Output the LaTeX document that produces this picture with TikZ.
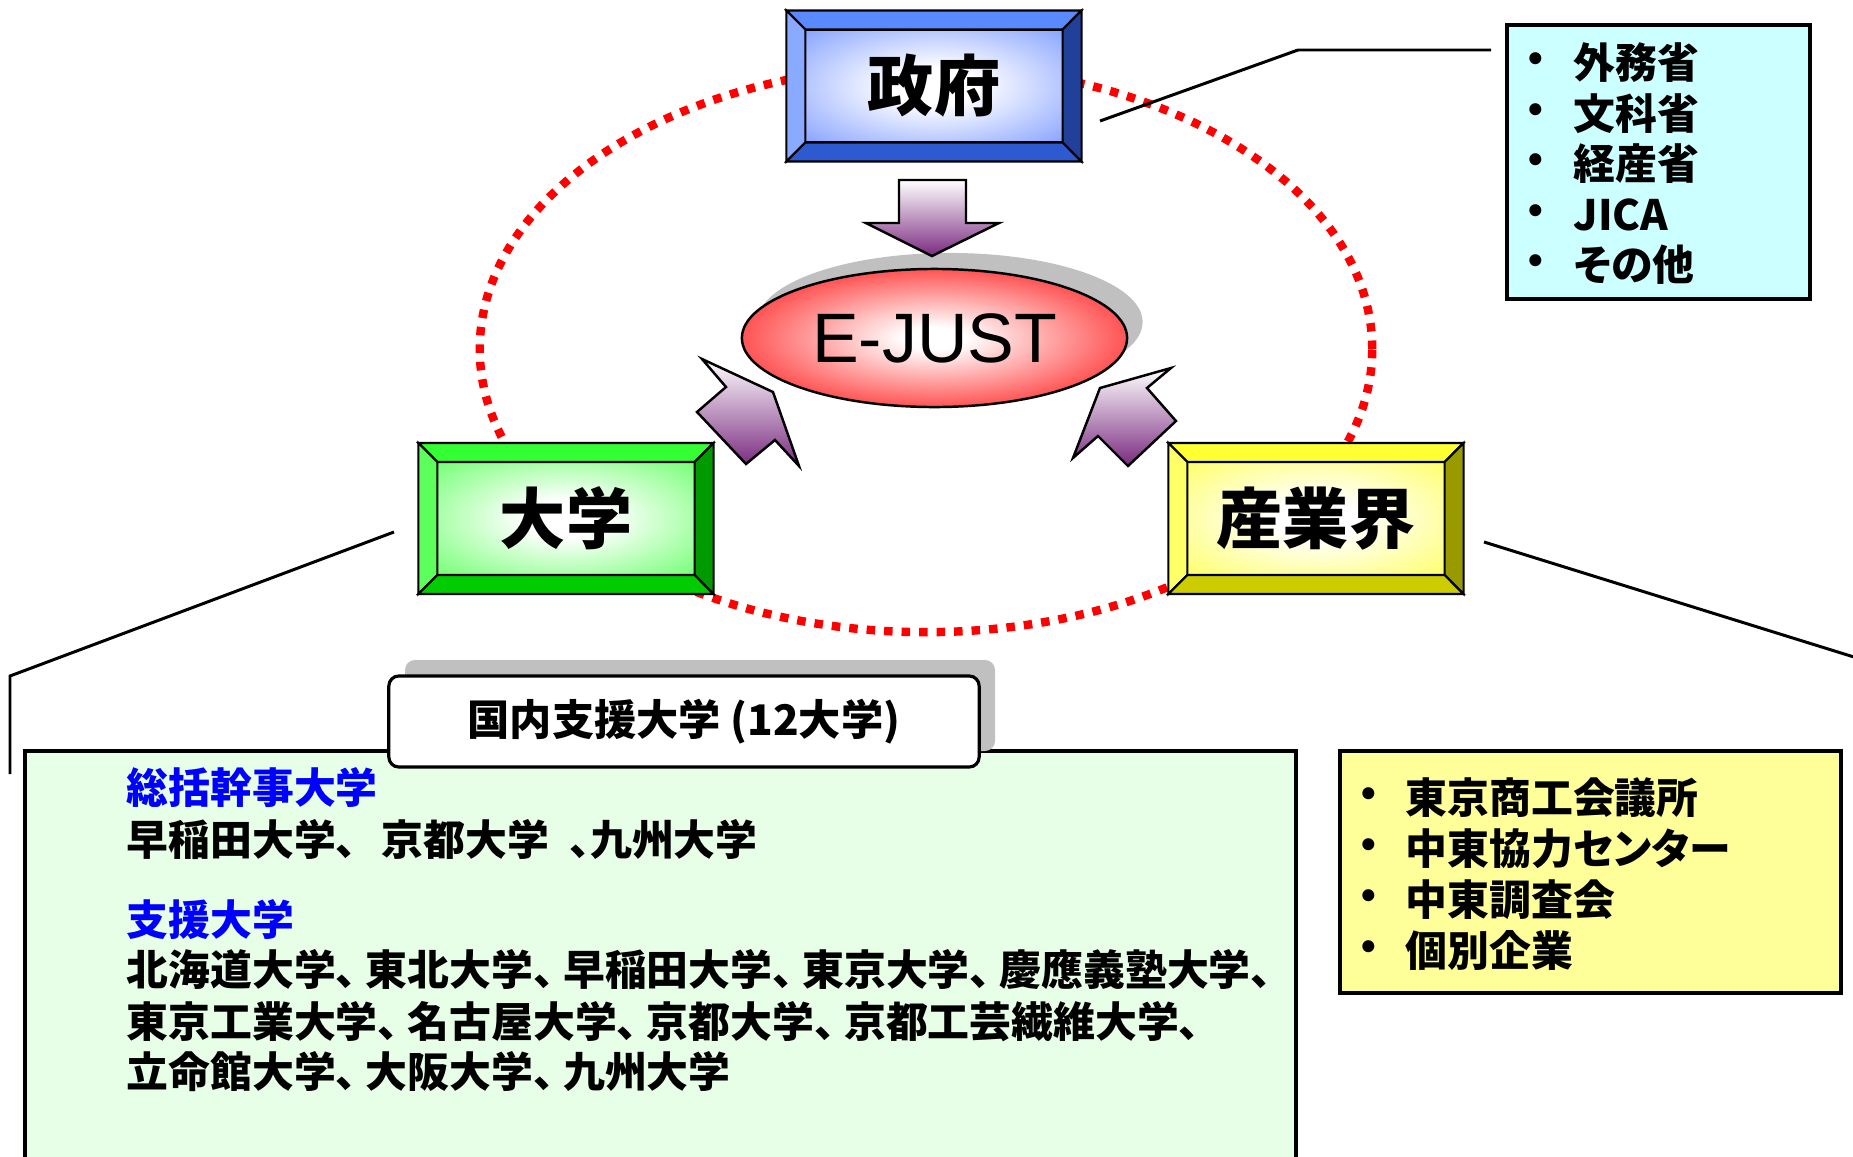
\documentclass[tikz,border=0pt]{standalone}
\usepackage{fontspec}
\setmainfont{Liberation Sans}
\newfontfamily\jp{Noto Sans CJK JP}[RawFeature=+palt]
\usetikzlibrary{shapes.geometric}

\definecolor{govtop}{HTML}{5A8AFF}
\definecolor{govleft}{HTML}{8AAAFF}
\definecolor{govright}{HTML}{21409A}
\definecolor{govbot}{HTML}{2D5AD0}
\definecolor{govface}{HTML}{5A80FF}
\definecolor{unitop}{HTML}{33FF33}
\definecolor{unileft}{HTML}{5CFF5C}
\definecolor{uniright}{HTML}{009900}
\definecolor{unibot}{HTML}{00CC00}
\definecolor{uniface}{HTML}{40FF40}
\definecolor{indtop}{HTML}{FFFF33}
\definecolor{indleft}{HTML}{FFFF66}
\definecolor{indright}{HTML}{999900}
\definecolor{indbot}{HTML}{CCCC00}
\definecolor{indface}{HTML}{FFFF33}
\definecolor{arrpurple}{HTML}{7A2A80}
\definecolor{shadowgray}{HTML}{C0C0C0}
\definecolor{govlist}{HTML}{CCFFFF}
\definecolor{unilist}{HTML}{E6FFE6}
\definecolor{indlist}{HTML}{FFFF99}
\definecolor{hotred}{HTML}{FF1A1A}
\colorlet{facecol}{white}

\pgfdeclareradialshading[facecol]{facefade}{\pgfpoint{0bp}{0bp}}{color(0bp)=(white); color(8bp)=(white); color(46bp)=(facecol); color(60bp)=(facecol)}
\pgfdeclareradialshading[facecol]{hotfade}{\pgfpoint{0bp}{0bp}}{color(0bp)=(white); color(4bp)=(white); color(32bp)=(facecol); color(60bp)=(facecol)}

\tikzset{
 bevface/.style={rectangle, draw, line width=.6pt, minimum width=2.57cm, minimum height=1.13cm, inner sep=0pt, outer sep=0pt, shade, shading=facefade, font=\jp\bfseries\fontsize{18.8}{20}\selectfont},
 bevedge/.style={draw, line width=.6pt},
 blockarrow/.style={draw, line width=.7pt, line join=miter, top color=white, bottom color=arrpurple},
 listbox/.style={draw, line width=.9pt},
 callout/.style={line width=.85pt},
 item/.style={anchor=west, inner sep=0pt, font=\jp\bfseries\fontsize{11.9}{14}\selectfont},
 dot/.style={inner sep=0pt, font=\bfseries\fontsize{11.9}{14}\selectfont},
}

% name, centre, top, left, right, bottom, face, text
\newcommand{\bevelbox}[8]{%
 \colorlet{facecol}{#7}%
 \node[bevface] (#1) at (#2) {#8};
 \filldraw[bevedge, fill=#3] (#1.north west) -- ++(-19,-19) -- ++(295,0) -- (#1.north east) -- cycle;
 \filldraw[bevedge, fill=#4] (#1.north west) -- ++(-19,-19) -- ++(0,151) -- (#1.south west) -- cycle;
 \filldraw[bevedge, fill=#5] (#1.north east) -- ++(19,-19) -- ++(0,151) -- (#1.south east) -- cycle;
 \filldraw[bevedge, fill=#6] (#1.south west) -- ++(-19,19) -- ++(295,0) -- (#1.south east) -- cycle;
}
\newcommand{\ten}{、\hspace{.09cm}}

\begin{document}
\begin{tikzpicture}[x=0.01cm, y=-0.01cm]
 \useasboundingbox (0,0) rectangle (1853,1157);

 % ring
 \draw[red, line width=2.4pt, dash pattern=on .085cm off .09cm] (926,349) ellipse (4.46cm and 2.83cm);

 % centre
 \fill[shadowgray] (950,322) ellipse (1.925cm and .69cm);
 \colorlet{facecol}{hotred}
 \node[ellipse, draw, line width=.7pt, minimum width=3.85cm, minimum height=1.38cm, inner sep=0pt, shade, shading=hotfade, font=\fontsize{19.9}{22}\selectfont] (ejust) at (934.5,338) {E-JUST};

 % arrows
 \draw[blockarrow] (899,180) -- (966,180) -- (966,223) -- (999,223) -- (932,256) -- (866,223) -- (899,223) -- cycle;
 \draw[blockarrow] (702,359) -- (773,392) -- (799,466) -- (775,440) -- (746,464) -- (697,412) -- (726,387) -- cycle;
 \draw[blockarrow] (1171,368) -- (1147,388) -- (1176,421) -- (1128,466) -- (1098,436) -- (1073,458) -- (1100,388) -- cycle;

 % boxes
 \bevelbox{govt}{934,86}{govtop}{govleft}{govright}{govbot}{govface}{政府}
 \bevelbox{univ}{566,518.5}{unitop}{unileft}{uniright}{unibot}{uniface}{大学}
 \bevelbox{ind}{1316,518.5}{indtop}{indleft}{indright}{indbot}{indface}{産業界}

 % callouts
 \coordinate (g0) at (1100,121);
 \coordinate (g1) at (1298,50);
 \coordinate (g2) at (1491,50);
 \coordinate (u0) at (394,532);
 \coordinate (u1) at (10,676);
 \coordinate (u2) at (10,774);
 \coordinate (i0) at (1484,542);
 \coordinate (i1) at (1870,662);
 \draw[callout] (g0) -- (g1) -- (g2);
 \draw[callout] (u0) -- (u1) -- (u2);
 \draw[callout] (i0) -- (i1);

 % government list
 \filldraw[listbox, fill=govlist] (1507,25) rectangle (1810,299);
 \foreach \t [count=\i from 0] in {外務省,文科省,経産省,JICA,その他} {
  \node[dot] (gb\i) at (1536,{63+50.5*\i}) {•};
  \node[item] (gl\i) at (1573,{63+50.5*\i}) {\t};
 }

 % industry list
 \filldraw[listbox, fill=indlist] (1340,751) rectangle (1841,993);
 \foreach \t [count=\i from 0] in {東京商工会議所,中東協力センター,中東調査会,個別企業} {
  \node[dot] (ib\i) at (1369,{798+50.7*\i}) {•};
  \node[item] (il\i) at (1405,{798+50.7*\i}) {\t};
 }

 % university list
 \filldraw[listbox, fill=unilist] (25,751) rectangle (1296,1175);
 \fill[shadowgray, rounded corners=.1cm] (405,660) rectangle (995,751);
 \node[draw, fill=white, line width=.9pt, rounded corners=.1cm, minimum width=5.9cm, minimum height=.91cm, font=\jp\bfseries\fontsize{12}{13}\selectfont] (unitab) at (684,721.5) {国内支援大学 (12大学)};
 \node[item, text=blue] (r0) at (126,788) {総括幹事大学};
 \node[item] (r1) at (126,840) {早稲田大学、\hspace{.25cm}京都大学\hspace{.2cm}、九州大学};
 \node[item, text=blue] (r2) at (126,920) {支援大学};
 \node[item] (r3) at (126,970) {北海道大学\ten 東北大学\ten 早稲田大学\ten 東京大学\ten 慶應義塾大学、};
 \node[item] (r4) at (126,1022) {東京工業大学\ten 名古屋大学\ten 京都大学\ten 京都工芸繊維大学、};
 \node[item] (r5) at (126,1072) {立命館大学\ten 大阪大学\ten 九州大学};
\end{tikzpicture}
\end{document}
